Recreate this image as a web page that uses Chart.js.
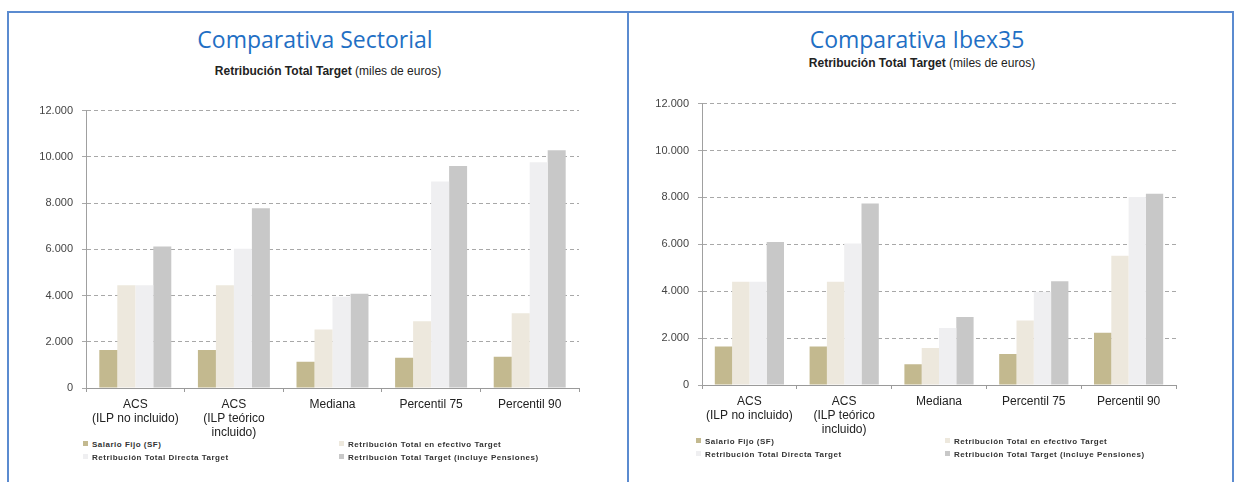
<!DOCTYPE html>
<html lang="es">
<head>
    <meta charset="UTF-8">
    <title>Retribución Total Target</title>
    <script src="https://cdn.jsdelivr.net/npm/chart.js"></script>
    <style>
        body {
            margin: 0;
            width: 1234px;
            height: 482px;
            background: #fff;
            position: relative;
            overflow: hidden;
            font-family: "Liberation Sans", Arial, sans-serif;
        }
        .frame {
            position: absolute;
            top: 11px;
            height: 480px;
            border-top: 2px solid #5b8bd0;
            border-left: 2px solid #5b8bd0;
            box-sizing: border-box;
        }
        .title {
            position: absolute;
            font-family: "Open Sans", sans-serif;
            font-size: 23px;
            color: #1f6fc4;
            text-align: center;
            white-space: nowrap;
        }
        .subtitle {
            position: absolute;
            font-size: 12px;
            color: #222;
            text-align: center;
            white-space: nowrap;
        }
        .chart-box {
            position: absolute;
        }
        .legend-item {
            position: absolute;
            font-size: 8px;
            font-weight: bold;
            color: #333;
            white-space: nowrap;
            letter-spacing: 0.5px;
            line-height: 10px;
        }
        .legend-item span.mark {
            display: inline-block;
            width: 5px;
            height: 5px;
            margin-right: 4px;
            vertical-align: 1px;
        }
    </style>
</head>
<body>

<div class="frame" style="left:7px; width:622px; border-right:2px solid #5b8bd0;"></div>
<div class="frame" style="left:627px; width:607px; border-left:none; border-right:2px solid #5b8bd0;"></div>

<div class="title" style="left:115px; width:400px; top:23px;">Comparativa Sectorial</div>
<div class="subtitle" style="left:128px; width:400px; top:64px;"><b>Retribución Total Target</b> (miles de euros)</div>

<div class="title" style="left:717px; width:400px; top:23px;">Comparativa Ibex35</div>
<div class="subtitle" style="left:722px; width:400px; top:56px;"><b>Retribución Total Target</b> (miles de euros)</div>

<div class="chart-box" style="left:10px; top:95px; width:600px; height:345px;">
    <canvas id="chartSectorial"></canvas>
</div>
<div class="chart-box" style="left:630px; top:88px; width:590px; height:349px;">
    <canvas id="chartIbex"></canvas>
</div>

<div id="legendSectorial"></div>
<div id="legendIbex"></div>

<script>
    // categories (multi-line labels)
    const categories = [
        ["ACS", "(ILP no incluido)"],
        ["ACS", "(ILP teórico", "incluido)"],
        "Mediana",
        "Percentil 75",
        "Percentil 90"
    ];

    const seriesNames = [
        "Salario Fijo (SF)",
        "Retribución Total en efectivo Target",
        "Retribución Total Directa Target",
        "Retribución Total Target (incluye Pensiones)"
    ];
    const seriesColors = ["#c3b98f", "#ede8dd", "#efeff1", "#c8c8c8"];

    // Comparativa Sectorial (miles de euros)
    const sectorialSF = [1640, 1640, 1140, 1310, 1350];
    const sectorialEfectivo = [4440, 4440, 2530, 2890, 3230];
    const sectorialDirecta = [4440, 6020, 3950, 8930, 9770];
    const sectorialTotal = [6120, 7780, 4080, 9600, 10280];

    // Comparativa Ibex35 (miles de euros)
    const ibexSF = [1640, 1640, 880, 1320, 2230];
    const ibexEfectivo = [4400, 4400, 1580, 2750, 5510];
    const ibexDirecta = [4400, 6030, 2430, 3980, 8020];
    const ibexTotal = [6100, 7740, 2900, 4420, 8160];

    const yTicks = [0, 2000, 4000, 6000, 8000, 10000, 12000];

    function fmt(v) {
        return String(v).replace(/\B(?=(\d{3})+(?!\d))/g, ".");
    }

    function makeChart(id, series, yWidth, xHeight, padRight, padTop) {
        const ctx = document.getElementById(id).getContext('2d');
        return new Chart(ctx, {
            type: 'bar',
            data: {
                labels: categories,
                datasets: series.map((d, i) => ({
                    label: seriesNames[i],
                    data: d,
                    backgroundColor: seriesColors[i],
                    borderWidth: 0,
                    categoryPercentage: 0.73,
                    barPercentage: 1.0
                }))
            },
            options: {
                responsive: true,
                maintainAspectRatio: false,
                animation: false,
                layout: {padding: {top: padTop, right: padRight, left: 0, bottom: 0}},
                plugins: {
                    legend: {display: false},
                    tooltip: {enabled: false}
                },
                scales: {
                    x: {
                        grid: {
                            offset: true,
                            drawOnChartArea: false,
                            tickLength: 4,
                            color: '#9a9a9a'
                        },
                        border: {color: '#9a9a9a', width: 1},
                        ticks: {
                            color: '#222',
                            padding: 5,
                            maxRotation: 0,
                            autoSkip: false,
                            font: {family: '"Liberation Sans", Arial, sans-serif', size: 12, lineHeight: 1.2}
                        },
                        afterFit: s => { s.height = xHeight; }
                    },
                    y: {
                        min: 0,
                        max: 12000,
                        afterBuildTicks: s => { s.ticks = yTicks.map(v => ({value: v})); },
                        grid: {
                            color: '#a8a8a8',
                            tickLength: 4,
                            lineWidth: 1
                        },
                        border: {color: '#a0a0a0', width: 1, dash: [4, 3]},
                        ticks: {
                            color: '#444',
                            padding: 9,
                            font: {family: '"Liberation Sans", Arial, sans-serif', size: 11},
                            callback: v => fmt(v)
                        },
                        afterFit: s => { s.width = yWidth; }
                    }
                }
            }
        });
    }

    makeChart('chartSectorial', [sectorialSF, sectorialEfectivo, sectorialDirecta, sectorialTotal], 76, 52, 31, 12);
    makeChart('chartIbex', [ibexSF, ibexEfectivo, ibexDirecta, ibexTotal], 72, 52, 44, 12);

    // legends, two columns like the original
    function makeLegend(id, x1, x2, y1, y2) {
        const box = document.getElementById(id);
        const pos = [[x1, y1], [x2, y1], [x1, y2], [x2, y2]];
        seriesNames.forEach((name, i) => {
            const item = document.createElement('div');
            item.className = 'legend-item';
            item.style.left = pos[i][0] + 'px';
            item.style.top = pos[i][1] + 'px';
            const mark = document.createElement('span');
            mark.className = 'mark';
            mark.style.background = seriesColors[i];
            item.appendChild(mark);
            item.appendChild(document.createTextNode(name));
            box.appendChild(item);
        });
    }

    makeLegend('legendSectorial', 83, 339, 440, 453);
    makeLegend('legendIbex', 696, 945, 437, 450);
</script>
</body>
</html>
